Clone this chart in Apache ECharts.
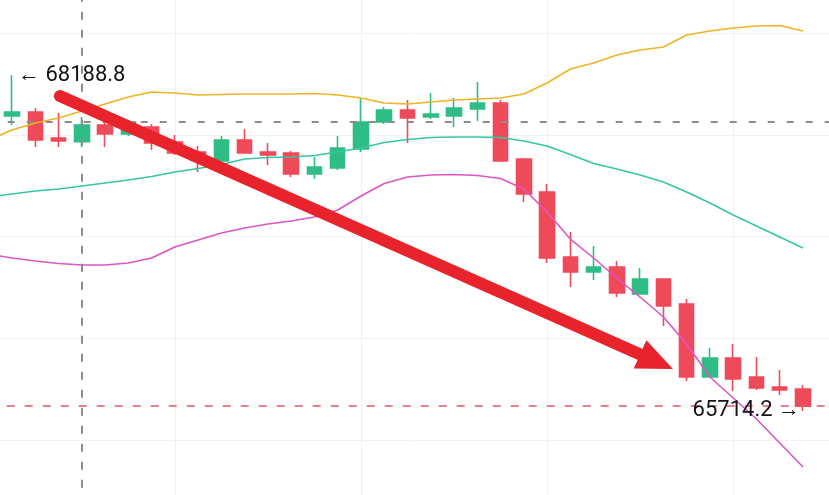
<!DOCTYPE html>
<html><head><meta charset="utf-8">
<script src="https://cdn.jsdelivr.net/npm/echarts@6/dist/echarts.min.js"></script>
<style>html,body{margin:0;padding:0;background:#fff}#c{width:829px;height:495px}</style>
</head><body><div id="c"></div><script>
// category slots: one hidden slot before the first visible candle, two empty after
const categories = ['-1','0','1','2','3','4','5','6','7','8','9','10','11','12','13','14','15','16','17','18','19','20','21','22','23','24','25','26','27','28','29','30','31','32','33','34','35','36'];
// visible candles (35)
const opens  = [67888.2,67917.7,67726.0,67699.0,67821.9,67755.5,67807.1,67696.6,67622.8,67556.5,67711.3,67622.8,67615.5,67460.7,67504.9,67645.0,67844.0,67932.4,67880.8,67888.2,67939.8,67984.0,67571.2,67328.0,66848.9,66738.3,66775.2,66576.2,66686.7,66502.5,65964.4,66104.4,65964.4,65890.7,65875.9];
const closes = [67917.7,67711.3,67703.9,67821.9,67755.5,67844.0,67689.2,67615.5,67563.9,67711.3,67615.5,67600.7,67460.7,67512.3,67652.3,67844.0,67932.4,67873.5,67903.0,67947.2,67984.0,67556.5,67313.3,66841.5,66738.3,66775.2,66583.5,66686.7,66487.7,65964.4,66104.4,65949.6,65883.3,65868.5,65750.0];
const lows   = [67821.9,67659.7,67659.7,67659.7,67659.7,67740.8,67637.6,67600.7,67475.4,67556.5,67615.5,67527.0,67438.6,67423.8,67490.2,67622.8,67829.2,67689.2,67866.1,67807.1,67851.4,67556.5,67254.3,66804.7,66627.8,66679.4,66554.1,66576.2,66340.3,65934.9,65964.4,65861.2,65868.5,65831.7,65714.2];
const highs  = [68188.8,67947.2,67910.3,67880.8,67858.7,67858.7,67829.2,67748.2,67667.1,67740.8,67792.4,67689.2,67630.0,67586.0,67740.8,68020.9,67954.5,68006.1,68057.7,68020.9,68138.8,68006.1,67571.2,67387.0,67033.2,66930.0,66819.4,66767.8,66686.7,66539.3,66178.1,66207.6,66111.8,66016.0,65905.4];
// Bollinger bands (36 values: hidden slot + 35 candles)
const bollUpper  = [67711.3,67785.0,67836.6,67873.5,67925.1,67976.7,68028.3,68065.1,68057.7,68043.0,68046.7,68050.4,68050.4,68050.4,68054.0,68043.0,68020.9,67984.0,67976.7,67991.4,68006.1,68013.5,68020.9,68050.4,68131.4,68234.6,68278.9,68337.8,68374.7,68396.8,68485.2,68514.7,68536.8,68551.6,68555.2,68514.7];
const bollMiddle = [67291.1,67313.2,67335.4,67350.1,67372.2,67394.3,67416.4,67442.2,67475.4,67501.2,67530.7,67571.2,67582.3,67586.0,67597.0,67622.8,67652.3,67692.8,67715.0,67729.7,67733.4,67733.4,67729.7,67703.9,67667.1,67604.4,67538.0,67497.5,67453.3,67401.7,67328.0,67246.9,67158.5,67077.4,66996.3,66915.2];
const bollLower  = [66871.0,66841.5,66819.4,66801.0,66789.9,66789.9,66804.7,66841.5,66922.6,66974.2,67025.8,67062.7,67092.1,67114.2,67143.7,67195.3,67298.5,67390.6,67438.5,67453.3,67457.0,67449.6,67427.5,67350.1,67180.5,66981.5,66841.5,66694.1,66554.0,66406.6,66207.6,65964.3,65809.5,65654.8,65477.9,65300.9];
// price gridline levels: start, step
const gridStart = 64750, gridStep = 750, gridEnd = 69250;
// reference levels
const refCandleIndex = 3;
const refPrice = 67844.0;
const lastPrice = closes[closes.length - 1];
// annotation arrow (candle index, price)
const arrowFrom = [2.06, 68035.6];
const arrowTo = [28.41, 66023.3];

const candleData = ['-'];
for (let i = 0; i < opens.length; i++) candleData.push([opens[i], closes[i], lows[i], highs[i]]);
while (candleData.length < categories.length) candleData.push('-');
const pad = a => a.concat(new Array(categories.length - a.length).fill(null));

const UP = '#2ebd85', DOWN = '#ef4a5a';
const chart = echarts.init(document.getElementById('c'), null, {renderer: 'canvas'});
const step = 23.265;
const pxPerPrice = 101.75 / 750;
chart.setOption({
  backgroundColor: '#ffffff',
  animation: false,
  grid: {left: 12 - step, width: step * 37, top: 33 - (gridEnd - 68500) * pxPerPrice, height: (gridEnd - gridStart) * pxPerPrice, outerBoundsMode: 'none', containLabel: false},
  xAxis: {
    type: 'category', data: categories, boundaryGap: false,
    axisLine: {show: false}, axisTick: {show: false}, axisLabel: {show: false},
    splitLine: {show: true, interval: (i) => i % 8 === 0, lineStyle: {color: '#f1f1f1', width: 1}}
  },
  yAxis: {
    type: 'value', min: gridStart, max: gridEnd, interval: gridStep,
    axisLine: {show: false}, axisTick: {show: false}, axisLabel: {show: false},
    splitLine: {show: true, lineStyle: {color: '#f1f1f1', width: 1}}
  },
  series: [
    {
      type: 'candlestick', data: candleData, barWidth: 15,
      itemStyle: {color: UP, color0: DOWN, borderColor: UP, borderColor0: DOWN, borderWidth: 1.6},
      markLine: {
        silent: true, symbol: ['none', 'none'], label: {show: false},
        data: [
          {xAxis: categories[refCandleIndex + 1], lineStyle: {color: '#8c8c8c', type: [8, 10], width: 2}},
          {yAxis: refPrice, lineStyle: {color: '#8c8c8c', type: [7, 12], width: 2}},
          {yAxis: lastPrice, lineStyle: {color: '#e0566a', type: [8, 10], width: 1.5}}
        ]
      },
      markPoint: {
        symbol: 'circle', symbolSize: 0, silent: true,
        label: {fontSize: 22, color: '#141414', fontFamily: 'Roboto'},
        data: [
          {type: 'max', valueDim: 'highest', label: {position: 'right', distance: 6, formatter: '← {c}'}},
          {type: 'min', valueDim: 'lowest', label: {position: 'left', distance: 3, formatter: '{c} →'}}
        ]
      }
    },
    {type: 'line', data: pad(bollUpper), showSymbol: false, symbol: 'none', lineStyle: {color: '#f0b323', width: 1.6}, z: 3},
    {type: 'line', data: pad(bollMiddle), showSymbol: false, symbol: 'none', lineStyle: {color: '#35c7a2', width: 1.6}, z: 3},
    {type: 'line', data: pad(bollLower), showSymbol: false, symbol: 'none', lineStyle: {color: '#dc55c4', width: 1.6}, z: 3}
  ]
});

function toPx(pt) {
  const c = pt[0] + 1, i0 = Math.floor(c), f = c - i0;
  const a = chart.convertToPixel({gridIndex: 0}, [i0, pt[1]]);
  const b = chart.convertToPixel({gridIndex: 0}, [i0 + 1, pt[1]]);
  return [a[0] + f * (b[0] - a[0]), a[1]];
}
const S = toPx(arrowFrom), T = toPx(arrowTo);
const dx = T[0] - S[0], dy = T[1] - S[1], L = Math.hypot(dx, dy);
const ux = dx / L, uy = dy / L, nx = -uy, ny = ux;
const headLen = 36, headHalf = 15.5;
const B = [T[0] - ux * (headLen - 4), T[1] - uy * (headLen - 4)];
const H = [T[0] - ux * headLen, T[1] - uy * headLen];
chart.setOption({
  graphic: [
    {type: 'line', z: 100, shape: {x1: S[0], y1: S[1], x2: B[0], y2: B[1]}, style: {stroke: '#e8232b', lineWidth: 12, lineCap: 'round'}},
    {type: 'polygon', z: 100, shape: {points: [T, [H[0] + nx * headHalf, H[1] + ny * headHalf], [H[0] - nx * headHalf, H[1] - ny * headHalf]]}, style: {fill: '#e8232b'}}
  ]
});
</script></body></html>
